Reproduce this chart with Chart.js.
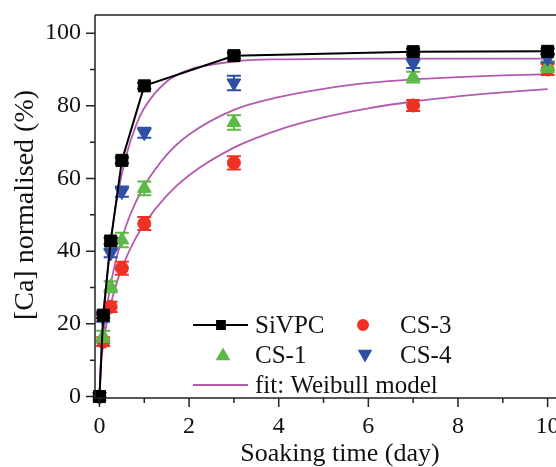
<!DOCTYPE html>
<html><head><meta charset="utf-8">
<script src="https://cdn.jsdelivr.net/npm/chart.js@4.4.0/dist/chart.umd.min.js"></script>
<style>
html,body{margin:0;padding:0;overflow:hidden;background:#fff;width:556px;height:467px}
#wrap{position:absolute;left:0;top:0;width:600px;height:467px}
</style>
</head><body><div id="wrap"><canvas id="c" width="600" height="467"></canvas></div>
<script>
// ---- data ----
const days = [0, 0.083, 0.25, 0.5, 1, 3, 7, 10];
const siVPC = [0, 22.4, 42.8, 65.0, 85.5, 93.8, 94.9, 95.0];
const siVPCErr = [0, 0.8, 0.8, 0.8, 0.8, 0.8, 0.8, 0.8];
const cs1 = [0, 16.6, 30.2, 43.1, 57.3, 75.4, 87.9, 90.8];
const cs1Err = [0, 1.5, 1.5, 2.0, 1.9, 2.0, 1.5, 1.5];
const cs3 = [0, 15.1, 24.7, 35.3, 47.6, 64.3, 80.1, 90.0];
const cs3Err = [0, 1.2, 1.4, 1.8, 1.8, 1.8, 1.5, 1.5];
const cs4 = [0, 21.6, 39.5, 56.4, 72.6, 86.3, 91.6, 93.1];
const cs4Err = [0, 1.0, 1.2, 1.4, 1.4, 2.0, 1.2, 1.2];

const fitDays = [0, 0.03, 0.083, 0.15, 0.25, 0.4, 0.6, 0.8, 1, 1.5, 2, 3, 4, 5, 6, 7, 8, 9, 10];
const fitCS4 = [0, 9.2, 20.1, 30.5, 42.3, 55.1, 66.5, 74.1, 79.4, 86.7, 89.9, 92.2, 92.8, 92.9, 93.0, 93.0, 93.0, 93.0, 93.0];
const fitCS1 = [0, 9.0, 16.7, 23.4, 30.9, 39.1, 47.2, 53.2, 58.0, 66.5, 72.1, 78.9, 82.4, 84.7, 86.3, 87.3, 87.9, 88.4, 88.7];
const fitCS3 = [0, 8.0, 14.2, 19.5, 25.3, 31.9, 38.3, 43.4, 47.5, 55.3, 60.9, 68.5, 73.4, 76.8, 79.3, 81.2, 82.6, 83.7, 84.6];

const xTicks = [0, 2, 4, 6, 8, 10];
const xMinor = [1, 3, 5, 7, 9];
const yTicks = [0, 20, 40, 60, 80, 100];
const yMinor = [10, 30, 50, 70, 90];

const seriesNames = ['SiVPC', 'CS-1', 'CS-3', 'CS-4', 'fit: Weibull model'];
const xTitle = 'Soaking time (day)';
const yTitle = '[Ca] normalised (%)';

// ---- styles ----
const C = {black:'#000000', green:'#5cb946', red:'#ee3124', blue:'#2e4fa3', fit:'#b35bb0', axis:'#222222'};
const SERIF = "'Liberation Serif', 'Times New Roman', serif";

const pts = (xs, ys) => xs.map((x, i) => ({x, y: ys[i]}));

const fitDS = (ys) => ({
  type:'line', data: pts(fitDays, ys), borderColor: C.fit, borderWidth: 1.8,
  pointRadius: 0, fill:false, cubicInterpolationMode:'monotone', order: 10, clip:false
});
const markDS = (label, ys, errs, color, style, r, rot, line, order) => ({
  type:'line', label, data: pts(days, ys), errors: errs,
  showLine: line, borderColor: color, borderWidth: 2, tension: 0,
  pointStyle: style, pointRadius: r, pointRotation: rot,
  pointBackgroundColor: color, pointBorderColor: color, pointBorderWidth: 1,
  order, clip:false
});

const errorBars = {
  id:'errorBars',
  beforeDatasetDraw(chart, args) {
    const ds = chart.data.datasets[args.index];
    if (!ds.errors) return;
    const ctx = chart.ctx, ys = chart.scales.y;
    ctx.save();
    ctx.strokeStyle = ds.borderColor; ctx.lineWidth = 2;
    args.meta.data.forEach((p, i) => {
      const e = ds.errors[i]; if (!e) return;
      const v = ds.data[i].y;
      const t = ys.getPixelForValue(v + e), b = ys.getPixelForValue(v - e);
      const w = 7;
      ctx.beginPath();
      ctx.moveTo(p.x, t); ctx.lineTo(p.x, b);
      ctx.moveTo(p.x - w, t); ctx.lineTo(p.x + w, t);
      ctx.moveTo(p.x - w, b); ctx.lineTo(p.x + w, b);
      ctx.stroke();
    });
    ctx.restore();
  }
};

const frame = {
  id:'frame',
  afterDraw(chart) {
    const ctx = chart.ctx, a = chart.chartArea, xs = chart.scales.x, ys = chart.scales.y;
    ctx.save();
    ctx.strokeStyle = C.axis; ctx.lineWidth = 1.5;
    ctx.beginPath();
    ctx.moveTo(a.left, a.top); ctx.lineTo(a.right, a.top); ctx.lineTo(a.right, a.bottom);
    ctx.moveTo(a.left, a.top); ctx.lineTo(a.left, a.bottom); ctx.lineTo(a.right, a.bottom);
    xTicks.forEach(v => { const x = xs.getPixelForValue(v); ctx.moveTo(x, a.bottom); ctx.lineTo(x, a.bottom + 9); });
    xMinor.forEach(v => { const x = xs.getPixelForValue(v); ctx.moveTo(x, a.bottom); ctx.lineTo(x, a.bottom + 5); });
    yTicks.forEach(v => { const y = ys.getPixelForValue(v); ctx.moveTo(a.left, y); ctx.lineTo(a.left - 9, y); });
    yMinor.forEach(v => { const y = ys.getPixelForValue(v); ctx.moveTo(a.left, y); ctx.lineTo(a.left - 5, y); });
    ctx.stroke();

    // axis titles
    ctx.fillStyle = '#111';
    ctx.font = '26px ' + SERIF;
    ctx.textAlign = 'center'; ctx.textBaseline = 'middle';
    ctx.fillText(xTitle, 340, 454);
    ctx.save();
    ctx.translate(26, 205); ctx.rotate(-Math.PI / 2);
    ctx.font = '28px ' + SERIF;
    ctx.fillText(yTitle, 0, 0);
    ctx.restore();

    // legend
    const H = Chart.helpers;
    const mk = (style, color, x, y, r, rot) => {
      ctx.fillStyle = color; ctx.strokeStyle = color;
      H.drawPoint(ctx, {pointStyle: style, radius: r, rotation: rot, borderWidth: 1}, x, y);
    };
    const txt = (s, x, y) => { ctx.fillStyle = '#111'; ctx.font = '25px ' + SERIF; ctx.textAlign = 'left'; ctx.textBaseline = 'middle'; ctx.fillText(s, x, y); };
    // row 1
    ctx.strokeStyle = C.black; ctx.lineWidth = 2;
    ctx.beginPath(); ctx.moveTo(193, 325); ctx.lineTo(248, 325); ctx.stroke();
    mk('rect', C.black, 221, 325, 5.5, 0);
    txt(seriesNames[0], 255, 326);
    mk('circle', C.red, 363, 325, 5, 0);
    txt(seriesNames[2], 400, 326);
    // row 2
    mk('triangle', C.green, 223, 356, 6.5, 0);
    txt(seriesNames[1], 255, 356);
    mk('triangle', C.blue, 365, 354, 6.5, 180);
    txt(seriesNames[3], 400, 356);
    // row 3
    ctx.strokeStyle = C.fit; ctx.lineWidth = 1.8;
    ctx.beginPath(); ctx.moveTo(193, 385); ctx.lineTo(248, 385); ctx.stroke();
    txt(seriesNames[4], 255, 386);
    ctx.restore();
  }
};

new Chart(document.getElementById('c'), {
  data: {
    datasets: [
      fitDS(fitCS4), fitDS(fitCS1), fitDS(fitCS3),
      markDS(seriesNames[2], cs3, cs3Err, C.red, 'circle', 6.5, 0, false, 4),
      markDS(seriesNames[1], cs1, cs1Err, C.green, 'triangle', 8, 0, false, 3),
      markDS(seriesNames[3], cs4, cs4Err, C.blue, 'triangle', 8, 180, false, 2),
      markDS(seriesNames[0], siVPC, siVPCErr, C.black, 'rect', 8.5, 0, true, 1)
    ]
  },
  options: {
    responsive: false, animation: false, devicePixelRatio: 1,
    layout: {padding: {top: 15, right: 30, left: 0, bottom: 0}},
    plugins: {legend: {display: false}, tooltip: {enabled: false}},
    scales: {
      x: {
        type: 'linear', min: -0.1, max: 10.5,
        afterBuildTicks: s => { s.ticks = xTicks.map(v => ({value: v})); },
        afterFit: s => { s.height = 69; s.paddingLeft = 0; s.paddingRight = 0; },
        grid: {display: false, drawTicks: false}, border: {display: false},
        ticks: {font: {family: SERIF, size: 24}, color: '#111', padding: 14, maxRotation: 0, autoSkip: false}
      },
      y: {
        type: 'linear', min: -0.4, max: 105,
        afterBuildTicks: s => { s.ticks = yTicks.map(v => ({value: v})); },
        afterFit: s => { s.width = 95; s.paddingTop = 0; s.paddingBottom = 0; },
        grid: {display: false, drawTicks: false}, border: {display: false},
        ticks: {font: {family: SERIF, size: 24}, color: '#111', padding: 14, autoSkip: false}
      }
    }
  },
  plugins: [errorBars, frame]
});
</script>
</body></html>
